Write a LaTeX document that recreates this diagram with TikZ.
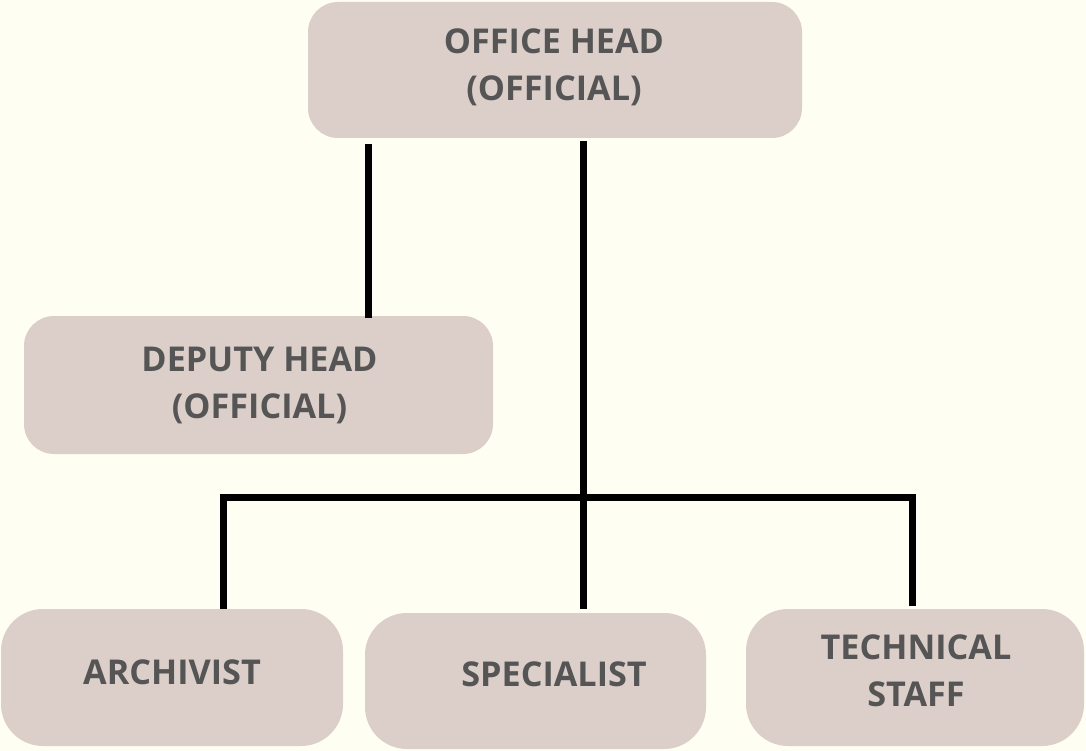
\documentclass[tikz,border=0pt]{standalone}
\usepackage{fontspec}
\setmainfont{Open Sans}
\definecolor{bgc}{HTML}{FEFEF2}
\definecolor{boxc}{HTML}{DCCFC9}
\definecolor{txtc}{HTML}{555555}
\begin{document}
\begin{tikzpicture}[x=1pt,y=-1pt,
  box/.style={fill=boxc, rounded corners=30pt, inner sep=0pt, draw=none},
  lbl/.style={text=txtc, font=\fontsize{34.2}{47}\selectfont\bfseries, align=center, inner sep=0pt},
  conn/.style={line width=7pt, black}]
\fill[bgc] (0,0) rectangle (1086,751);
\useasboundingbox (0,0) rectangle (1086,751);
% boxes
\node[box, minimum width=494pt, minimum height=136pt] (oh) at (555,70) {};
\node[box, minimum width=469pt, minimum height=138pt] (dh) at (258.5,385) {};
\node[box, rounded corners=42pt, minimum width=342pt, minimum height=137pt] (ar) at (172,677.5) {};
\node[box, rounded corners=42pt, minimum width=341pt, minimum height=136pt] (sp) at (535.5,681) {};
\node[box, rounded corners=42pt, minimum width=338pt, minimum height=137pt] (ts) at (915,677.5) {};
% labels
\node[lbl] (oht) at (554,67) {OFFICE HEAD\\(OFFICIAL)};
\node[lbl] (dht) at (259.5,385) {DEPUTY HEAD\\(OFFICIAL)};
\node[lbl] (art) at (172,672) {ARCHIVIST};
\node[lbl] (spt) at (554,674) {SPECIALIST};
\node[lbl] (tst) at (916,671) {TECHNICAL\\STAFF};
% connectors
\coordinate (hub) at (583,497);
\draw[conn] ([yshift=-6pt]oh.south -| 368,0) -- ([yshift=-2pt]dh.north -| 368,0);
\draw[conn] ([yshift=-3pt]oh.south -| hub) -- ([yshift=4pt]sp.north -| hub);
\draw[conn, line cap=rect] (223,497) -- (912.5,497);
\draw[conn] (223,497) -- (ar.north -| 223,0);
\draw[conn] (912.5,497) -- ([yshift=3pt]ts.north -| 912.5,0);
\end{tikzpicture}
\end{document}
